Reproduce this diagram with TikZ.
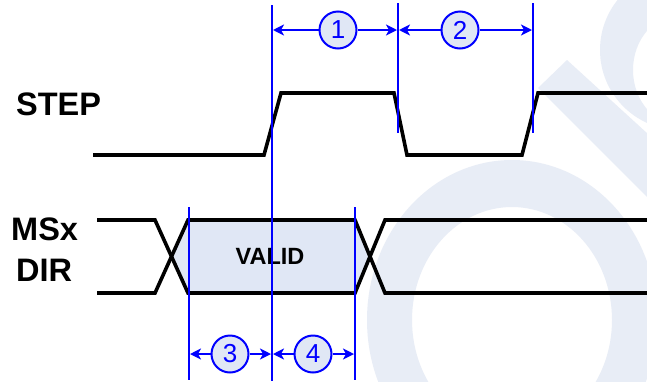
\documentclass[tikz,border=0pt]{standalone}
\usepackage{fontspec}
\setmainfont{Liberation Sans}
\usetikzlibrary{arrows.meta}
\definecolor{pureblue}{RGB}{0,0,255}
\definecolor{wmark}{RGB}{232,237,246}
\definecolor{boxfill}{RGB}{224,231,245}
\tikzset{
  sig/.style={line width=3.6pt, line join=miter, black},
  vline/.style={line width=2.2pt, pureblue},
  dimarr/.style={line width=2pt, pureblue, -{Stealth[length=11pt,width=11pt,inset=3pt]}},
  circlab/.style={circle, draw=pureblue, line width=2pt, fill=boxfill, minimum size=37pt, inner sep=0pt, text=pureblue, font=\fontsize{26}{26}\selectfont},
  siglabel/.style={inner sep=0pt, anchor=base west, font=\fontsize{32.5}{32}\selectfont\bfseries},
  wm/.style={fill=wmark}
}
\begin{document}
\begin{tikzpicture}[x=1pt,y=-1pt]
\useasboundingbox (0,0) rectangle (647,381);
\fill[white] (0,0) rectangle (647,381);
% watermark
\begin{scope}
\clip (0,0) rectangle (647,381);
\fill[wm] (567,60) -- (660,145) -- (660,210) -- (538,88) -- cycle;
\fill[wm, even odd rule] (512,320) ellipse [x radius=145pt, y radius=160pt]
                         (512,320) ellipse [x radius=100pt, y radius=113pt];
\fill[wm, even odd rule] (680,50) ellipse [x radius=80pt, y radius=80pt]
                         (680,70) ellipse [x radius=47pt, y radius=55pt];
\end{scope}
% valid box fill
\fill[boxfill] (171,256.5) -- (188,220) -- (355,220) -- (370,256.5) -- (355,293) -- (188,293) -- cycle;
% labels
\node[siglabel] (lstep) at (16,115) {STEP};
\node[siglabel] (lms) at (11,240) {MSx};
\node[siglabel] (ldir) at (16,281) {DIR};
\node[inner sep=0pt, font=\fontsize{23.5}{23}\selectfont\bfseries] (valid) at (270,256) {VALID};
% signals
\draw[sig] (93,155) -- (264,155) -- (281,93) -- (394,93) -- (407,155) -- (522,155) -- (538,93) -- (647,93);
\draw[sig] (97,220) -- (155,220) -- (188,293) -- (355,293) -- (385,220) -- (647,220);
\draw[sig] (97,293) -- (155,293) -- (188,220) -- (355,220) -- (385,293) -- (647,293);
% vertical timing lines
\coordinate (v1t) at (272,5);   \coordinate (v1b) at (272,381);
\coordinate (v2t) at (398,3);   \coordinate (v2b) at (398,133);
\coordinate (v3t) at (533,3);   \coordinate (v3b) at (533,133);
\coordinate (v4t) at (189,207); \coordinate (v4b) at (189,380);
\coordinate (v5t) at (355,207); \coordinate (v5b) at (355,380);
\draw[vline] (v1t) -- (v1b);
\draw[vline] (v2t) -- (v2b);
\draw[vline] (v3t) -- (v3b);
\draw[vline] (v4t) -- (v4b);
\draw[vline] (v5t) -- (v5b);
% dimension circles
\node[circlab] (n1) at (338,30) {1};
\node[circlab] (n2) at (460,30) {2};
\node[circlab] (n3) at (230,354) {3};
\node[circlab] (n4) at (313,354) {4};
% arrow end points
\coordinate (a1l) at (273,30);  \coordinate (a1r) at (397,30);
\coordinate (a2l) at (399,30);  \coordinate (a2r) at (532,30);
\coordinate (a3l) at (190,354); \coordinate (a3r) at (271,354);
\coordinate (a4l) at (273,354); \coordinate (a4r) at (354,354);
\draw[dimarr] (n1.west) -- (a1l);
\draw[dimarr] (n1.east) -- (a1r);
\draw[dimarr] (n2.west) -- (a2l);
\draw[dimarr] (n2.east) -- (a2r);
\draw[dimarr] (n3.west) -- (a3l);
\draw[dimarr] (n3.east) -- (a3r);
\draw[dimarr] (n4.west) -- (a4l);
\draw[dimarr] (n4.east) -- (a4r);
\end{tikzpicture}
\end{document}
